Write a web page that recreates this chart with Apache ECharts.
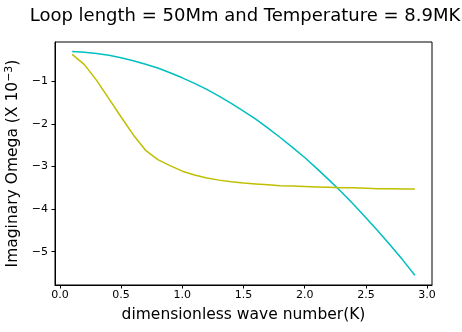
<!DOCTYPE html>
<html>
<head>
<meta charset="utf-8">
<script src="https://cdn.jsdelivr.net/npm/echarts@6/dist/echarts.min.js"></script>
<style>
  html, body { margin: 0; padding: 0; background: #fff; }
  #chart { width: 462px; height: 332px; }
</style>
</head>
<body>
<div id="chart"></div>
<script>
// wave number K
const waveNumbers = [0.1, 0.2, 0.3, 0.4, 0.5, 0.6, 0.7, 0.8, 0.9, 1.0,
  1.1, 1.2, 1.3, 1.4, 1.5, 1.6, 1.7, 1.8, 1.9, 2.0,
  2.1, 2.2, 2.3, 2.4, 2.5, 2.6, 2.7, 2.8, 2.9];
// imaginary omega (x 1e-3), cyan curve
const cyanValues = [-0.30, -0.32, -0.35, -0.39, -0.45, -0.52, -0.60, -0.69, -0.80, -0.92,
  -1.05, -1.19, -1.35, -1.52, -1.70, -1.89, -2.10, -2.32, -2.55, -2.79,
  -3.05, -3.32, -3.60, -3.89, -4.20, -4.52, -4.85, -5.19, -5.55];
// imaginary omega (x 1e-3), yellow curve
const yellowValues = [-0.37, -0.61, -0.98, -1.41, -1.84, -2.26, -2.62, -2.84, -2.98, -3.11,
  -3.20, -3.27, -3.32, -3.36, -3.39, -3.41, -3.43, -3.45, -3.46, -3.47,
  -3.48, -3.49, -3.50, -3.50, -3.51, -3.52, -3.52, -3.53, -3.53];
const xTicks = [0, 0.5, 1.0, 1.5, 2.0, 2.5, 3.0];
const yTicks = [-5, -4, -3, -2, -1];

const font = "DejaVu Sans";
const pair = (xs, ys) => xs.map((x, i) => [x, ys[i]]);

const chart = echarts.init(document.getElementById("chart"), null, { renderer: "canvas" });
chart.setOption({
  animation: false,
  backgroundColor: "#fff",
  title: {
    text: "Loop length = 50Mm and Temperature = 8.9MK",
    left: 240,
    top: 2,
    textAlign: "center",
    textStyle: { fontFamily: font, fontSize: 18, fontWeight: "normal", color: "#000" },
  },
  grid: {
    left: 55, right: 30, top: 42, bottom: 47,
    outerBoundsMode: "none",
    show: true, borderColor: "#000", borderWidth: 1,
  },
  xAxis: {
    type: "value",
    min: -0.04,
    max: 3.04,
    name: "dimensionless wave number(K)",
    nameLocation: "middle",
    nameGap: 22,
    nameTextStyle: { fontFamily: font, fontSize: 15.5, color: "#000" },
    axisLine: { show: true, onZero: false, lineStyle: { color: "#000" } },
    axisTick: { show: true, length: 3.5, customValues: xTicks, lineStyle: { color: "#000" } },
    axisLabel: {
      customValues: xTicks, margin: 5,
      fontFamily: font, fontSize: 11, color: "#000",
      formatter: (v) => v.toFixed(1),
    },
    splitLine: { show: false },
  },
  yAxis: {
    type: "value",
    min: -5.78,
    max: -0.08,
    name: "Imaginary Omega (X 10{sup|\u22123})",
    nameLocation: "middle",
    nameGap: 29,
    nameTextStyle: {
      fontFamily: font, fontSize: 15.5, color: "#000",
      rich: {
        sup: { fontFamily: font, fontSize: 11, color: "#000", verticalAlign: "top", padding: [0, 0, 7, 0] },
      },
    },
    axisLine: { show: true, onZero: false, lineStyle: { color: "#000" } },
    axisTick: { show: true, length: 3.5, customValues: yTicks, lineStyle: { color: "#000" } },
    axisLabel: {
      customValues: yTicks, margin: 7,
      fontFamily: font, fontSize: 11, color: "#000",
      formatter: (v) => "\u2212" + Math.abs(v),
    },
    splitLine: { show: false },
  },
  series: [
    {
      type: "line",
      data: pair(waveNumbers, cyanValues),
      showSymbol: false,
      lineStyle: { color: "#00bfbf", width: 1.5 },
    },
    {
      type: "line",
      data: pair(waveNumbers, yellowValues),
      showSymbol: false,
      lineStyle: { color: "#bfbf00", width: 1.5 },
    },
  ],
});
</script>
</body>
</html>
